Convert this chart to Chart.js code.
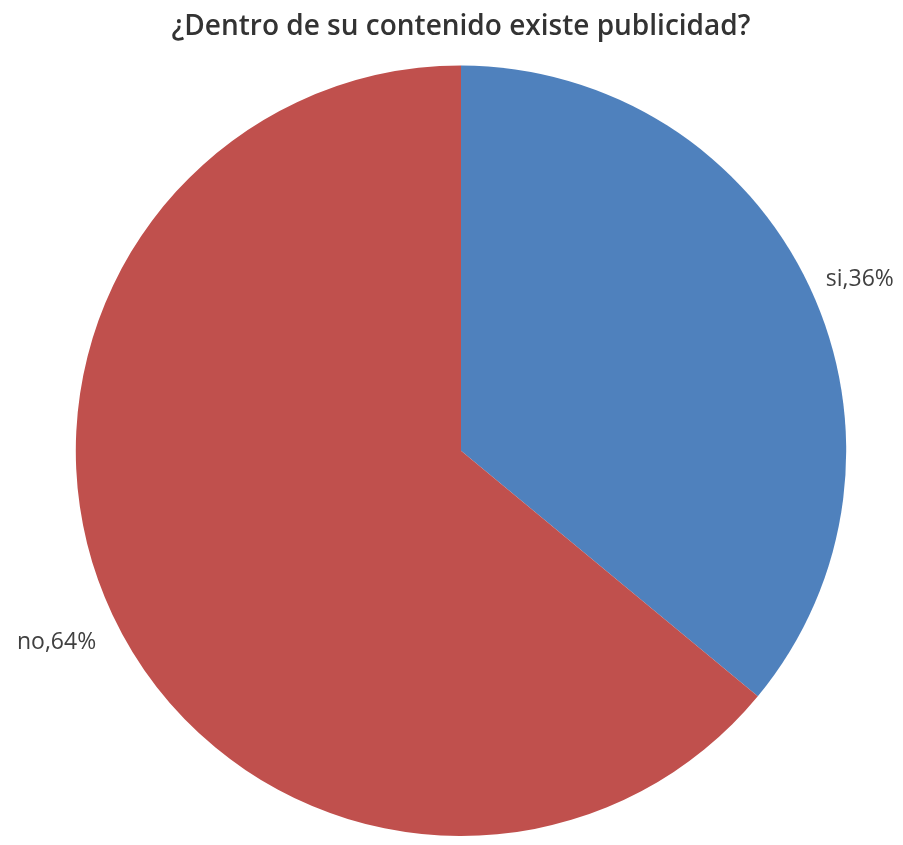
<!DOCTYPE html>
<html>
<head>
<meta charset="utf-8">
<script src="https://cdn.jsdelivr.net/npm/chart.js@4/dist/chart.umd.min.js"></script>
<style>
  html, body { margin: 0; padding: 0; background: #fff; overflow: hidden; }
</style>
</head>
<body>
<canvas id="pie" width="903" height="845"></canvas>
<script>
const categories = ['si', 'no'];
const percentages = [36, 64];
const sliceColors = ['#4F81BD', '#C0504D'];
const chartTitle = '¿Dentro de su contenido existe publicidad?';

// etiquetas "categoria,valor%" fuera del borde, como en Excel
const outsideLabels = {
    id: 'outsideLabels',
    afterDatasetsDraw(chart) {
        const ctx = chart.ctx;
        const meta = chart.getDatasetMeta(0);
        ctx.save();
        ctx.font = '23px "Open Sans"';
        ctx.fillStyle = '#404040';
        ctx.textBaseline = 'middle';
        meta.data.forEach((arc, i) => {
            const mid = (arc.startAngle + arc.endAngle) / 2;
            const r = arc.outerRadius + 18;
            const x = arc.x + Math.cos(mid) * r;
            let y = arc.y + Math.sin(mid) * r;
            if (y > arc.y) y += 20;
            ctx.textAlign = x >= arc.x ? 'left' : 'right';
            ctx.fillText(categories[i] + ',' + percentages[i] + '%', x, y);
        });
        ctx.restore();
    }
};

new Chart(document.getElementById('pie').getContext('2d'), {
    type: 'pie',
    data: {
        labels: categories,
        datasets: [{
            data: percentages,
            backgroundColor: sliceColors,
            borderWidth: 0,
        }],
    },
    options: {
        responsive: false,
        animation: false,
        layout: { padding: { left: 72, right: 53, top: 0, bottom: 9 } },
        plugins: {
            legend: { display: false },
            tooltip: { enabled: false },
            title: {
                display: true,
                text: chartTitle,
                color: '#333333',
                font: { family: 'Open Sans', size: 28, weight: '600' },
                padding: { top: 10, bottom: 22 },
            },
        },
    },
    plugins: [outsideLabels],
});
</script>
</body>
</html>
